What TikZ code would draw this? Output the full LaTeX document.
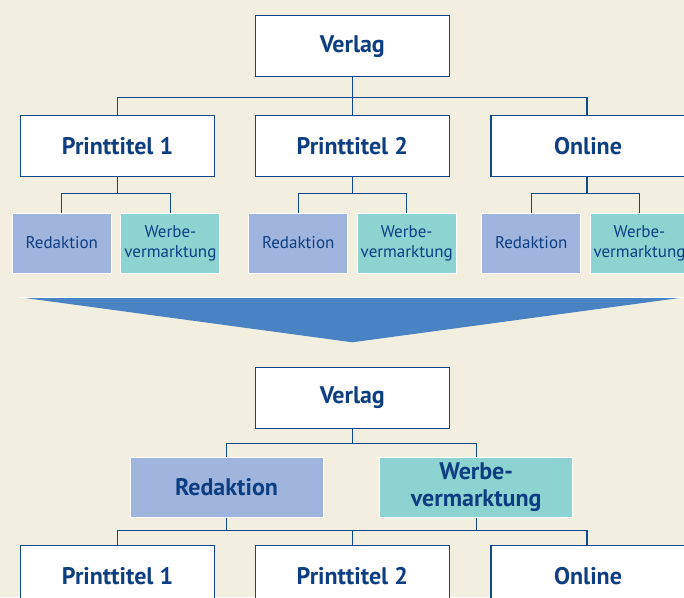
\documentclass[tikz,border=0pt]{standalone}
\usepackage{fontspec}
\setmainfont{PT Sans}
\usetikzlibrary{positioning,calc}
\usepackage{xcolor}
\definecolor{bgcream}{RGB}{243,239,224}
\definecolor{orgblue}{RGB}{16,72,140}
\definecolor{textblue}{RGB}{14,62,130}
\definecolor{redfill}{RGB}{160,181,222}
\definecolor{werbefill}{RGB}{140,211,209}
\definecolor{arrowblue}{RGB}{74,131,196}

\begin{document}
\begin{tikzpicture}[x=1pt, y=-1pt,
    unit/.style={rectangle, draw=orgblue, fill=white, line width=1.3pt,
                 minimum width=194pt, minimum height=61pt, inner sep=0pt,
                 font=\fontsize{24}{28}\selectfont\bfseries, text=textblue},
    dept/.style={rectangle, draw=white, line width=1pt, minimum width=99pt,
                 minimum height=60pt, inner sep=0pt, align=center,
                 font=\fontsize{17}{20}\selectfont, text=textblue},
    bigdept/.style={dept, minimum width=193pt,
                 font=\fontsize{24}{27}\selectfont\bfseries},
    conn/.style={draw=orgblue, line width=1.2pt},
]

\useasboundingbox[fill=bgcream] (0,0) rectangle (684,597);
\clip (0,0) rectangle (684,597);

% before: Verlag with three titles
\node[unit] (verlagA) at (352.3, 46.2) {Verlag};
\node[unit] (ptA1) at (117.6, 146.2) {Printtitel 1};
\node[unit] (ptA2) at (352.3, 146.2) {Printtitel 2};
\node[unit] (ptA3) at (588, 146.2) {Online};

\draw[conn] (verlagA.south) -- (ptA2.north);
\draw[conn] (verlagA.south) -- ++(0,20) coordinate (jA);
\draw[conn] (ptA1.north) |- (jA) -| ([xshift=-1pt]ptA3.north);

% departments per title
\node[dept, fill=redfill] (redA1) at (61.8, 243) {Redaktion};
\node[dept, fill=werbefill] (werbeA1) at (170.4, 243) {Werbe-\\vermarktung};
\node[dept, fill=redfill] (redA2) at (298.2, 243) {Redaktion};
\node[dept, fill=werbefill] (werbeA2) at (406.7, 243) {Werbe-\\vermarktung};
\node[dept, fill=redfill] (redA3) at (531.2, 243) {Redaktion};
\node[dept, fill=werbefill] (werbeA3) at (639.5, 243) {Werbe-\\vermarktung};

\draw[conn] (ptA1.south) -- ++(0,16) coordinate (jA1);
\draw[conn] (redA1.north) |- (jA1) -| (werbeA1.north);
\draw[conn] (ptA2.south) -- ++(0,16) coordinate (jA2);
\draw[conn] (redA2.north) |- (jA2) -| (werbeA2.north);
\draw[conn] ([xshift=-1pt]ptA3.south) -- ++(0,16) coordinate (jA3);
\draw[conn] (redA3.north) |- (jA3) -| (werbeA3.north);

% big arrow
\coordinate (arrL) at (20, 297.3);
\coordinate (arrR) at (684.5, 297.3);
\coordinate (arrTip) at (352.3, 342.3);
\fill[arrowblue] (arrL) -- (arrR) -- (arrTip) -- cycle;
\draw[white, line width=1pt] (arrL) -- (arrR);

% after: shared departments
\node[unit] (verlagB) at (352.3, 398) {Verlag};
\node[dept, bigdept, fill=redfill] (redB) at (226.5, 487.2) {Redaktion};
\node[dept, bigdept, fill=werbefill] (werbeB) at (476.2, 487.2) {Werbe-\\vermarktung};

\draw[conn] (verlagB.south) -- ++(0,14) coordinate (jB);
\draw[conn] (redB.north) |- (jB) -| (werbeB.north);

\node[unit] (ptB1) at (117.6, 576.2) {Printtitel 1};
\node[unit] (ptB2) at (352.3, 576.2) {Printtitel 2};
\node[unit] (ptB3) at (588, 576.2) {Online};

\draw[conn] (redB.south) -- ++(0,13) coordinate (jC);
\draw[conn] (werbeB.south) -- (werbeB.south |- jC);
\draw[conn] (ptB1.north) |- (jC) -| ([xshift=-1pt]ptB3.north);
\draw[conn] (ptB2.north) -- (ptB2.north |- jC);

\end{tikzpicture}
\end{document}
